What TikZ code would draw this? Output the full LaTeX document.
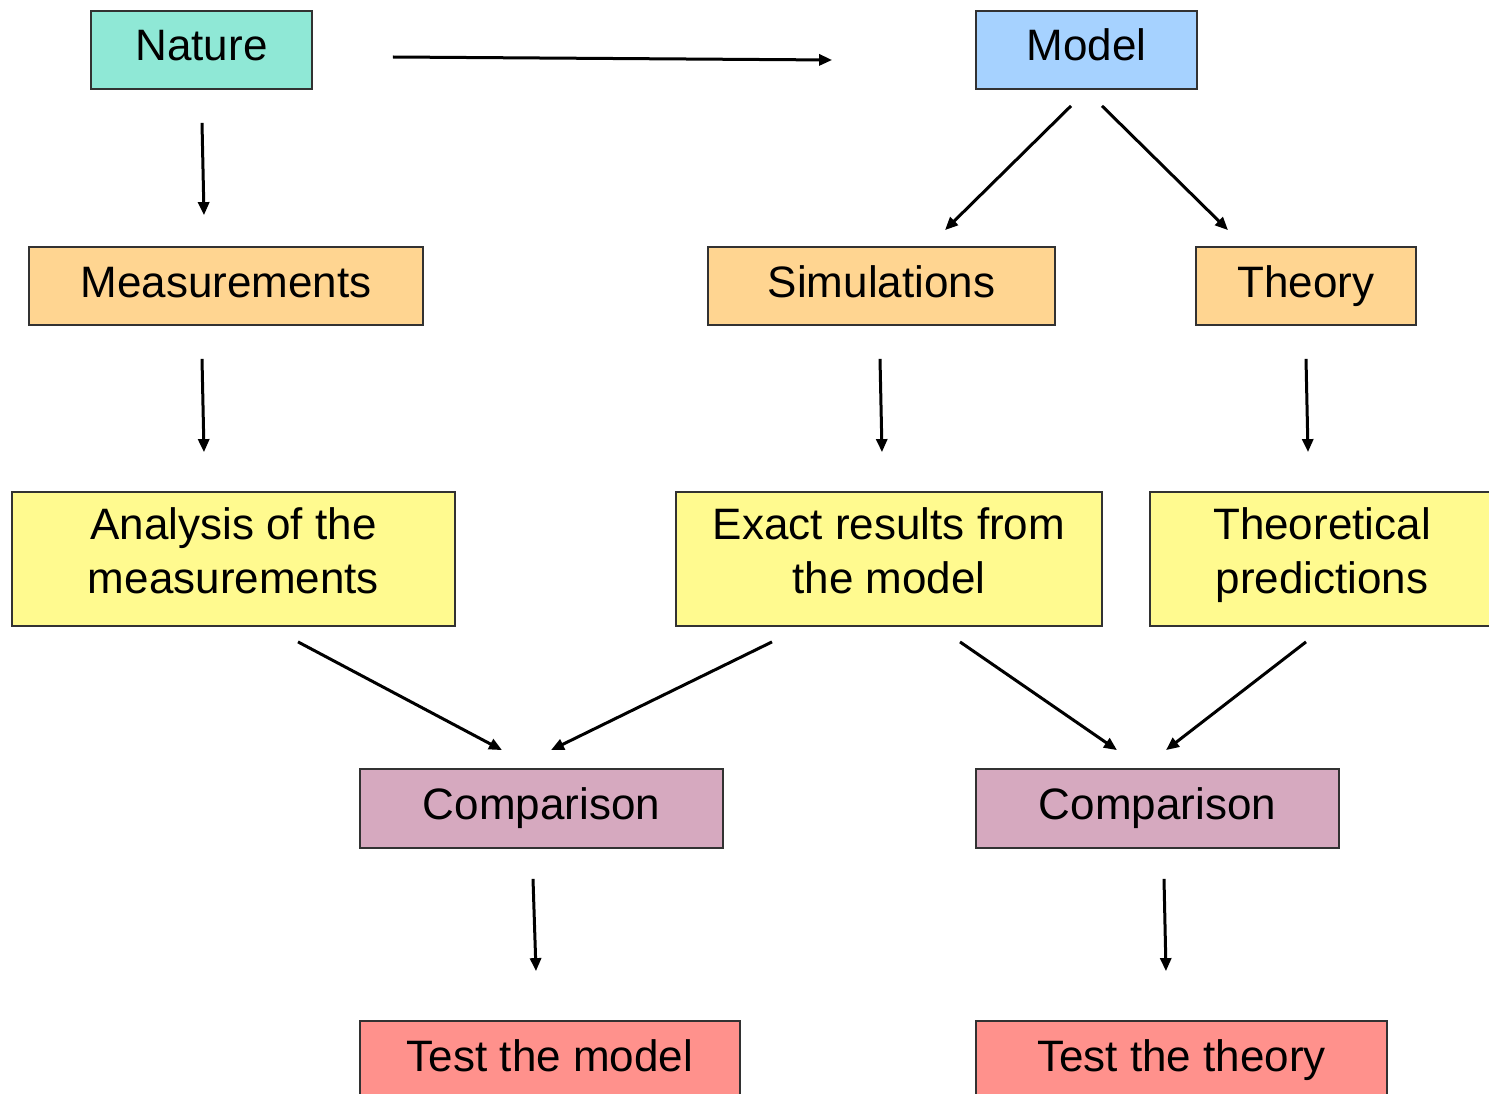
\documentclass[tikz,border=0pt]{standalone}
\usepackage{fontspec}
\setmainfont{Liberation Sans}
\usetikzlibrary{arrows.meta}
\definecolor{cnature}{RGB}{143,232,214}
\definecolor{cmodel}{RGB}{166,210,255}
\definecolor{corange}{RGB}{255,213,145}
\definecolor{cyellow}{RGB}{255,250,143}
\definecolor{ccomp}{RGB}{214,169,191}
\definecolor{ctest}{RGB}{255,145,140}
\definecolor{cborder}{RGB}{50,50,50}
\tikzset{
  box/.style={draw=cborder, line width=1.8pt, inner sep=0pt, anchor=center,
    font=\fontsize{44}{54}\selectfont, align=center},
  onebox/.style={box, text height=32pt, text depth=10pt},
  twobox/.style={box},
  arr/.style={line width=3pt, -{Triangle[length=13pt,width=11pt]}},
}
\newcommand{\mystruttop}{\rule{0pt}{32pt}}
\newcommand{\mystrutbot}{\rule[-18pt]{0pt}{18pt}}
\begin{document}
\begin{tikzpicture}[x=1pt,y=-1pt]
\useasboundingbox (0,0) rectangle (1489,1094);
\clip (0,0) rectangle (1489,1094);
\fill[white] (0,0) rectangle (1489,1094);

\node[onebox, fill=cnature, minimum width=221pt, minimum height=78pt] (nature) at (201.5,50) {Nature};
\node[onebox, fill=cmodel, minimum width=221pt, minimum height=78pt] (model) at (1086.5,50) {Model};

\node[onebox, fill=corange, minimum width=394pt, minimum height=78pt] (meas) at (226,286) {Measurements};
\node[onebox, fill=corange, minimum width=347pt, minimum height=78pt] (sim) at (881.5,286) {Simulations};
\node[onebox, fill=corange, minimum width=220pt, minimum height=78pt] (theory) at (1306,286) {Theory};

\node[twobox, fill=cyellow, minimum width=443pt, minimum height=134pt] (analysis) at (233.5,559) {\mystruttop Analysis of the\\measurements\mystrutbot};
\node[twobox, fill=cyellow, minimum width=426pt, minimum height=134pt] (exact) at (889,559) {\mystruttop Exact results from\\the model\mystrutbot};
\node[twobox, fill=cyellow, minimum width=344pt, minimum height=134pt] (theo) at (1322,559) {\mystruttop Theoretical\\predictions\mystrutbot};

\node[onebox, fill=ccomp, minimum width=363pt, minimum height=79pt] (compA) at (541.5,808.5) {Comparison};
\node[onebox, fill=ccomp, minimum width=363pt, minimum height=79pt] (compB) at (1157.5,808.5) {Comparison};

\node[onebox, fill=ctest, minimum width=380pt, minimum height=79pt] (testA) at (550,1060.5) {Test the model};
\node[onebox, fill=ctest, minimum width=411pt, minimum height=79pt] (testB) at (1181.5,1060.5) {Test the theory};

\draw[arr] ([shift={(80,7)}]nature.east) -- ([shift={(-143,10)}]model.west);
\draw[arr] ([shift={(0.5,33)}]nature.south) -- ([shift={(-22,-31)}]meas.north);
\draw[arr] ([shift={(-15.5,16)}]model.south) -- ([shift={(63.5,-16)}]sim.north);
\draw[arr] ([shift={(15.5,16)}]model.south) -- ([shift={(-78,-16)}]theory.north);
\draw[arr] ([shift={(-24,33)}]meas.south) -- ([shift={(-29.5,-39)}]analysis.north);
\draw[arr] ([shift={(-1.5,33)}]sim.south) -- ([shift={(-7,-39)}]exact.north);
\draw[arr] ([shift={(0,33)}]theory.south) -- ([shift={(-14,-39)}]theo.north);
\draw[arr] ([shift={(64.5,15)}]analysis.south) -- ([shift={(-39.5,-18)}]compA.north);
\draw[arr] ([shift={(-117,15)}]exact.south) -- ([shift={(9.5,-18)}]compA.north);
\draw[arr] ([shift={(71,15)}]exact.south) -- ([shift={(-40.5,-18)}]compB.north);
\draw[arr] ([shift={(-16,15)}]theo.south) -- ([shift={(8.5,-18)}]compB.north);
\draw[arr] ([shift={(-8.5,30)}]compA.south) -- ([shift={(-14,-49)}]testA.north);
\draw[arr] ([shift={(6.5,30)}]compB.south) -- ([shift={(-15.5,-49)}]testB.north);
\end{tikzpicture}
\end{document}
